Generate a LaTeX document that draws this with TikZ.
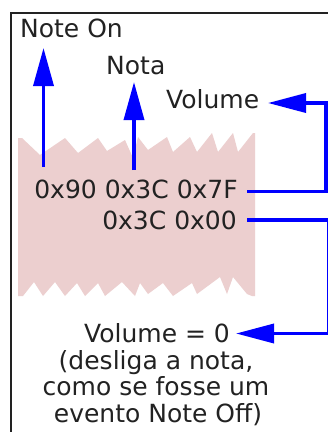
\documentclass[tikz,border=0pt]{standalone}
\usepackage{fontspec}
\setmainfont{DejaVu Sans}
\usetikzlibrary{arrows.meta}
\definecolor{pinkfill}{RGB}{236,207,207}
\definecolor{arrblue}{RGB}{0,0,255}
\definecolor{txt}{RGB}{34,34,34}
\begin{document}
\begin{tikzpicture}[x=1pt,y=-1pt,
  lbl/.style={inner sep=0pt, text=txt, font=\fontsize{25}{27}\selectfont},
  conn/.style={draw=arrblue, line width=3.5pt},
  tipv/.style={-{Triangle[length=38pt,width=20pt]}},
  tiph/.style={-{Triangle[length=38pt,width=19pt]}},
  frame/.style={draw=txt, line width=2pt}]
\fill[white] (0,0) rectangle (328,432);
\useasboundingbox (0,0) rectangle (328,432);
% torn paper strip
\fill[pinkfill] (18,138) -- (22,138) -- (40,155) -- (65,138) -- (78,153) -- (98,138)
  -- (107,151) -- (125,140) -- (133,158) -- (138,137) -- (148,150) -- (167,137)
  -- (173,152) -- (190,137) -- (197,152) -- (212,133) -- (218,152) -- (233,133)
  -- (238,152) -- (253,133) -- (255,133)
  -- (255,296) -- (252,296) -- (247,294) -- (233,277) -- (227,294) -- (220,277)
  -- (197,294) -- (192,283) -- (173,296) -- (163,283) -- (148,294) -- (140,283)
  -- (135,296) -- (122,282) -- (105,296) -- (98,283) -- (85,296) -- (77,283)
  -- (65,296) -- (55,282) -- (43,296) -- (34,282) -- (23,296) -- (18,296) -- cycle;
% frame
\draw[frame] (340,12.8) -- (10.8,12.8) -- (10.8,440);
% texts
\node[lbl, anchor=base west] (noteon) at (20,37) {Note On};
\node[lbl, anchor=base west] (nota) at (106,74) {Nota};
\node[lbl, anchor=base west] (vol) at (166,108) {Volume};
\node[lbl, anchor=base east] (hexa) at (238,198) {0x90 0x3C 0x7F};
\node[lbl, anchor=base east] (hexb) at (237,229) {0x3C 0x00};
\node[lbl, anchor=base] (volzero) at (157,342) {Volume = 0};
\node[lbl, anchor=base] (desca) at (156,369) {(desliga a nota,};
\node[lbl, anchor=base] (descb) at (156,395.5) {como se fosse um};
\node[lbl, anchor=base] (descc) at (158,422) {evento Note Off)};
% connector end points
\coordinate (a1s) at (43.5,167);
\coordinate (a1e) at (43.5,48);
\coordinate (a2s) at (134,170);
\coordinate (a2e) at (134,82);
\coordinate (v1s) at (247,191.5);
\coordinate (v1c) at (326,103);
\coordinate (v1e) at (268,103);
\coordinate (v2s) at (247,220);
\coordinate (v2c) at (328.3,333.5);
\coordinate (v2e) at (236,333.5);
% connectors
\draw[conn,tipv] (a1s) -- (a1e);
\draw[conn,tipv] (a2s) -- (a2e);
\draw[conn,tiph] (v1s) -| (v1c) -- (v1e);
\draw[conn,tiph] (v2s) -| (v2c) -- (v2e);
\end{tikzpicture}
\end{document}
